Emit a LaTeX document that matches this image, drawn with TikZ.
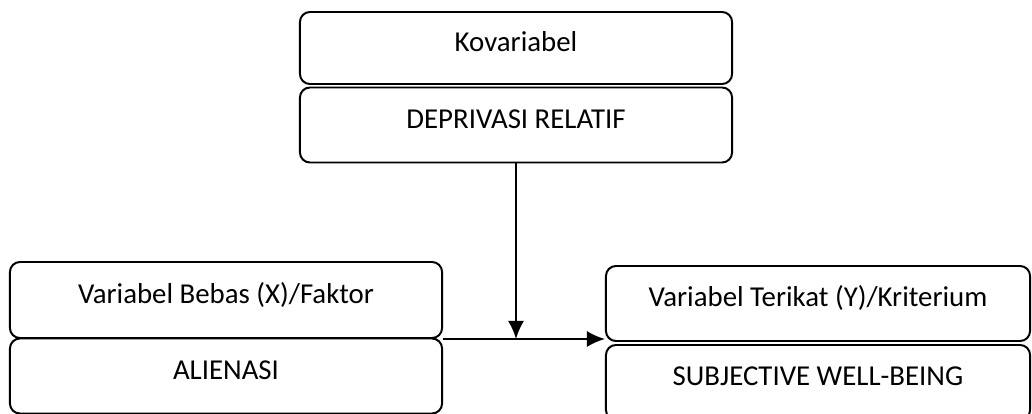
\documentclass[tikz,border=0pt]{standalone}
\usepackage{fontspec}
\setmainfont{Carlito}
\usetikzlibrary{arrows.meta}

\tikzset{
	varbox/.style={draw, line width=1.4pt, rounded corners=0.25cm,
		minimum width=#1, minimum height=1.875cm, inner sep=0pt,
		text height=0.9em, text depth=0.42em,
		font=\fontsize{20.5}{24}\selectfont},
	varbox/.default=10.8cm,
	arr/.style={line width=1.4pt, -{Latex[length=4.5mm,width=4mm]}}
}

\begin{document}
\begin{tikzpicture}[x=0.025cm, y=-0.025cm]

		\useasboundingbox (0,0) rectangle (1032,414);

		% covariate
		\node[varbox, minimum height=1.8cm] (kov) at (516,48) {Kovariabel};
		\node[varbox] (dep) at (516,125) {DEPRIVASI RELATIF};

		% independent variable
		\node[varbox, minimum height=1.9cm] (bebas) at (226,300) {Variabel Bebas (X)/Faktor};
		\node[varbox] (alien) at (226,376) {ALIENASI};

		% dependent variable
		\node[varbox=10.6cm] (terikat) at (818,303.5) {Variabel Terikat (Y)/Kriterium};
		\node[varbox=10.6cm] (swb) at (818,382.5) {SUBJECTIVE WELL-BEING};

		%% Arrows %%
		\draw[arr] (bebas.south east) -- (bebas.south east -| terikat.west);
		\draw[arr] (dep.south) -- (dep.south |- bebas.south east);

\end{tikzpicture}
\end{document}
